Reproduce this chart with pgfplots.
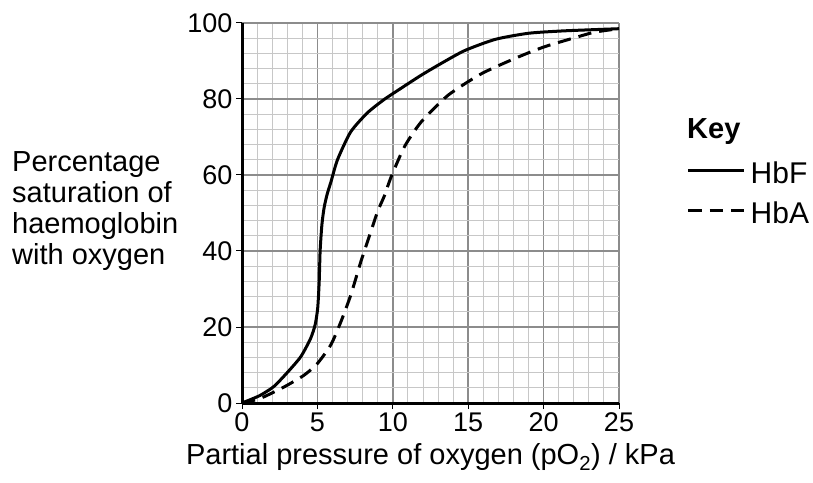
\documentclass[border=0pt]{standalone}
\usepackage{fontspec}
\setmainfont{Liberation Sans}
\usepackage{pgfplots}
\pgfplotsset{compat=1.18}
\begin{document}
\begin{tikzpicture}[x=1pt,y=1pt]
\path[use as bounding box] (0,0) rectangle (813,482);
\begin{axis}[
 at={(242pt,79pt)}, anchor=south west,
 scale only axis, width=377pt, height=380pt,
 xmin=0,xmax=25,ymin=0,ymax=100,
 xtick={0,5,...,25}, ytick={0,20,...,100},
 minor x tick num=4, minor y tick num=4,
 grid=both,
 major grid style={black!45, line width=1.6pt},
 minor grid style={black!22, line width=0.9pt},
 axis x line=bottom, axis y line=left,
 axis line style={-, line width=3pt},
 tick align=outside, major tick length=6pt, minor tick length=0pt,
 tick style={black, line width=1pt},
 /pgf/number format/assume math mode=true,
 tick label style={font=\fontsize{27}{30}\selectfont},
 xlabel={Partial pressure of oxygen (pO\textsubscript{2}) / kPa},
 xlabel style={at={(0.5,-0.163)}, anchor=base, font=\fontsize{29}{32}\selectfont},
 legend style={at={(1.1796,0.6355)}, anchor=north west, draw=none, fill=none,
   font=\fontsize{30}{33}\selectfont, row sep=17pt, column sep=5pt, inner sep=0pt, outer sep=0pt,
   nodes={inner sep=0pt, outer sep=0pt}, cells={anchor=west}},
 legend image code/.code={\draw[#1] (0pt,3pt) -- (56pt,3pt);},
 clip=false,
]
\addplot[black, line width=3pt, smooth, tension=0.4] coordinates {
(0,0) (0.5,0.8) (1.2,2.0) (2.1,4.3) (3.0,8.0) (3.9,12.2) (4.55,17) (4.85,20.6)
(5.02,25) (5.12,32) (5.18,40) (5.3,47) (5.45,51.5) (5.65,55) (5.9,58.2) (6.33,64)
(7.2,71.3) (8.3,76.3) (9.4,79.8) (10.5,82.7) (11.9,86.3) (13.4,89.8)
(14.8,92.8) (16.8,95.7) (19,97.3) (21.2,97.9) (23,98.2) (25,98.5)};
\addlegendentry{HbF}
\addplot[black, line width=3pt, smooth, tension=0.4, dash pattern=on 13.3pt off 8pt] coordinates {
(0,0) (0.7,0.6) (1.44,1.6) (2.78,4.2) (4.11,7.3) (5.0,10.4) (5.89,15.3) (6.56,21.4)
(7.22,28.5) (7.89,37.3) (8.56,45.3) (9.0,50.5) (9.44,54.5) (9.89,59.5) (10.78,67.5)
(11.89,74) (13.67,81) (15.9,86.7) (18.35,91.1) (20.1,93.8) (22.3,96.4) (23.4,97.6) (25,98.5)};
\addlegendentry{HbA}
\end{axis}
\node[anchor=base west, inner sep=0, font=\fontsize{29}{32}\selectfont\bfseries] at (687,343.7) {Key};
\node[anchor=north west, inner sep=0, align=left, font=\fontsize{29}{31}\selectfont] at (12,330.5)
 {Percentage\\saturation of\\haemoglobin\\with oxygen};
\end{tikzpicture}
\end{document}
